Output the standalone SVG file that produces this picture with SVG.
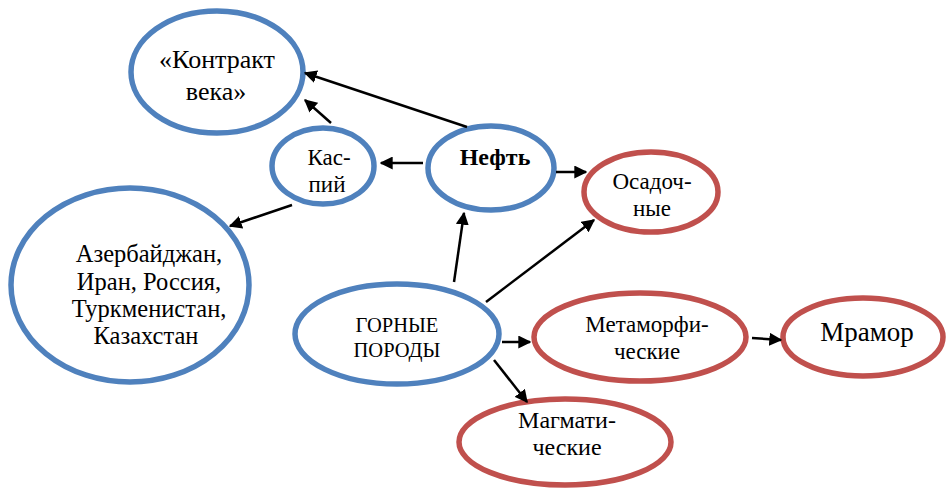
<svg xmlns="http://www.w3.org/2000/svg" width="947" height="488" viewBox="0 0 947 488">
<style>
.b{fill:#fff;stroke:#4F81BD;stroke-width:5.5}
.r{fill:#fff;stroke:#C0504D;stroke-width:5.5}
text{font-family:'Liberation Serif','Times New Roman',Tinos,'DejaVu Serif',serif;fill:#000;text-anchor:middle}
.c line{stroke:#000;stroke-width:2.5;marker-end:url(#a)}
</style>
<defs>
<marker id="a" viewBox="0 0 10 10" refX="9" refY="5" markerWidth="5.2" markerHeight="5.2" orient="auto" markerUnits="strokeWidth">
<path d="M0,0L10,5L0,10z" fill="#000"/>
</marker>
</defs>
<g id="kontrakt"><ellipse class="b" cx="217" cy="72" rx="86" ry="61"/><text x="217" y="68" font-size="26">«Контракт</text><text x="216" y="100" font-size="26">века»</text></g>
<g id="kaspiy"><ellipse class="b" cx="323" cy="166" rx="51" ry="38"/><text x="329" y="165" font-size="23">Кас-</text><text x="327" y="192" font-size="23">пий</text></g>
<g id="neft"><ellipse class="b" cx="491" cy="168" rx="63" ry="42"/><text x="495" y="165" font-size="24" font-weight="bold">Нефть</text></g>
<g id="osadoch"><ellipse class="r" cx="651" cy="192" rx="67" ry="40"/><text x="652" y="189" font-size="23">Осадоч-</text><text x="652" y="216" font-size="23">ные</text></g>
<g id="strany"><ellipse class="b" cx="130" cy="285" rx="119" ry="97"/><text x="149" y="262" font-size="24.5">Азербайджан,</text><text x="149" y="290" font-size="24.5">Иран, Россия,</text><text x="149" y="317" font-size="24.5">Туркменистан,</text><text x="146" y="344" font-size="24.5">Казахстан</text></g>
<g id="gornye"><ellipse class="b" cx="397" cy="334" rx="102" ry="50"/><text x="397" y="332" font-size="20.5">ГОРНЫЕ</text><text x="397" y="357" font-size="20.5">ПОРОДЫ</text></g>
<g id="metamorf"><ellipse class="r" cx="640" cy="337" rx="106" ry="44"/><text x="647" y="332" font-size="23">Метаморфи-</text><text x="647" y="359" font-size="23">ческие</text></g>
<g id="mramor"><ellipse class="r" cx="863" cy="337" rx="80" ry="39"/><text x="867" y="341" font-size="27">Мрамор</text></g>
<g id="magmat"><ellipse class="r" cx="565" cy="442" rx="106" ry="43"/><text x="567" y="428" font-size="24">Магмати-</text><text x="567" y="455" font-size="24">ческие</text></g>
<g class="c" id="connectors">
<line x1="467" y1="127" x2="305" y2="73"/>
<line x1="331" y1="123" x2="305" y2="100"/>
<line x1="423" y1="163" x2="381" y2="163"/>
<line x1="556" y1="172" x2="586" y2="172"/>
<line x1="292" y1="205" x2="230" y2="226"/>
<line x1="454" y1="282" x2="464" y2="213"/>
<line x1="486" y1="302" x2="594" y2="220"/>
<line x1="502" y1="342" x2="530" y2="342"/>
<line x1="494" y1="360" x2="527" y2="402"/>
<line x1="752" y1="338" x2="781" y2="340"/>
</g>
</svg>
